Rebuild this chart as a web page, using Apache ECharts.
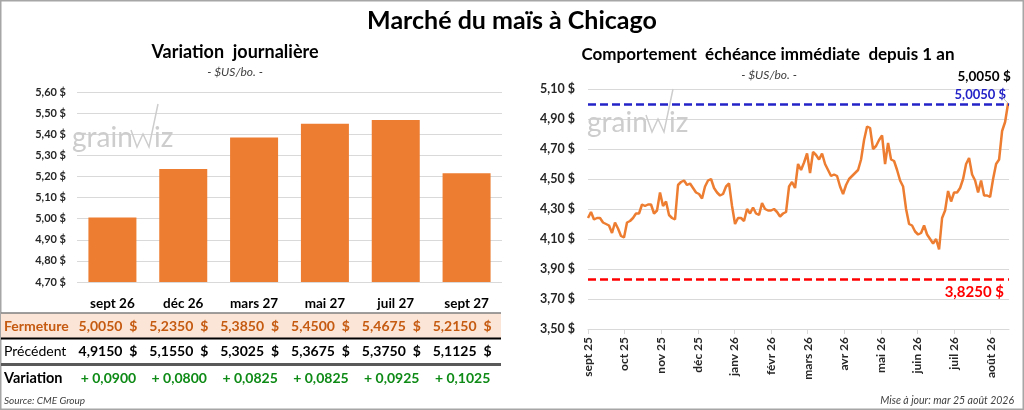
<!DOCTYPE html>
<html>
<head>
<meta charset="utf-8">
<script src="https://cdn.jsdelivr.net/npm/echarts@6/dist/echarts.min.js"></script>
<style>
  html, body { margin: 0; padding: 0; background: #fff; }
  #main { width: 1024px; height: 410px; }
</style>
</head>
<body>
<div id="main"></div>
<script>
// contrats du tableau de gauche
const contracts = ['sept 26', 'déc 26', 'mars 27', 'mai 27', 'juil 27', 'sept 27']
const closes = [5.0050, 5.2350, 5.3850, 5.4500, 5.4675, 5.2150]
const previous = [4.9150, 5.1550, 5.3025, 5.3675, 5.3750, 5.1125]
const changes = [0.0900, 0.0800, 0.0825, 0.0825, 0.0925, 0.1025]

// échéance immédiate, 1 an
const months = ['sept 25', 'oct 25', 'nov 25', 'déc 25', 'janv 26', 'févr 26',
  'mars 26', 'avr 26', 'mai 26', 'juin 26', 'juil 26', 'août 26']
const nearby = [
  4.24, 4.28, 4.23, 4.24, 4.24, 4.21, 4.20, 4.19, 4.14, 4.21, 4.17, 4.12,
  4.11, 4.21, 4.22, 4.24, 4.27, 4.27, 4.33, 4.32, 4.33, 4.33, 4.27, 4.29,
  4.41, 4.32, 4.35, 4.26, 4.24, 4.23, 4.46, 4.48, 4.49, 4.46, 4.47, 4.44,
  4.41, 4.40, 4.37, 4.45, 4.49, 4.50, 4.44, 4.41, 4.39, 4.40, 4.45, 4.47,
  4.32, 4.20, 4.24, 4.24, 4.22, 4.30, 4.27, 4.31, 4.27, 4.26, 4.34, 4.30,
  4.29, 4.29, 4.30, 4.28, 4.25, 4.27, 4.28, 4.45, 4.48, 4.44,
  4.60, 4.56, 4.61, 4.67, 4.54, 4.68, 4.66, 4.63, 4.67, 4.60, 4.56, 4.52,
  4.53, 4.52, 4.45, 4.40, 4.46, 4.50, 4.52, 4.54, 4.56, 4.63, 4.76, 4.85,
  4.84, 4.70, 4.72, 4.76, 4.79, 4.60, 4.74, 4.63, 4.62, 4.56, 4.49, 4.45,
  4.30, 4.20, 4.19, 4.15, 4.13, 4.14, 4.19, 4.13, 4.10, 4.07, 4.10, 4.03,
  4.24, 4.29, 4.42, 4.35, 4.41, 4.41, 4.44, 4.50, 4.60, 4.64, 4.53, 4.49,
  4.41, 4.49, 4.39, 4.39, 4.38, 4.50, 4.60, 4.63, 4.82, 4.88, 5.005
]
const highMark = 5.0050
const lowMark = 3.8250

const PTS_PER_MONTH = 12.2
const FONT = 'Lato'
const fmt = (v, d) => v.toFixed(d).replace('.', ',')

const chart = echarts.init(document.getElementById('main'))
const last = nearby.length - 1
const lastPt = [last / PTS_PER_MONTH, nearby[last]]

const option = {
  animation: false,
  textStyle: { fontFamily: FONT },
  grid: [
    { left: 77, right: 522, top: 92, bottom: 128 },
    { left: 588, right: 15, top: 89, bottom: 81 }
  ],
  xAxis: [
    {
      type: 'category', gridIndex: 0, data: contracts,
      axisLine: { show: false }, axisTick: { show: false },
      axisLabel: { color: '#000', fontWeight: 'bold', fontSize: 13.5, margin: 15 }
    },
    {
      type: 'value', gridIndex: 1, min: 0, max: 11.5, interval: 1,
      splitLine: { show: false },
      axisLine: { show: true, lineStyle: { color: '#d9d9d9' } },
      axisTick: { show: true, length: 5, lineStyle: { color: '#d9d9d9' },
        customValues: months.map((m, i) => i) },
      axisLabel: { rotate: 90, margin: 8, color: '#262626', fontWeight: 'bold', fontSize: 12,
        customValues: months.map((m, i) => i),
        formatter: v => months[Math.round(v)] || '' }
    }
  ],
  yAxis: [
    {
      type: 'value', gridIndex: 0, min: 4.7, max: 5.6, interval: 0.1,
      axisLine: { show: false }, axisTick: { show: false },
      splitLine: { lineStyle: { color: '#d9d9d9' } },
      axisLabel: { color: '#262626', fontWeight: 'bold', fontSize: 11, margin: 11,
        formatter: v => fmt(v, 2) + ' $' }
    },
    {
      type: 'value', gridIndex: 1, min: 3.5, max: 5.1, interval: 0.2,
      axisLine: { show: false }, axisTick: { show: false },
      splitLine: { lineStyle: { color: '#d9d9d9' } },
      axisLabel: { color: '#262626', fontWeight: 'bold', fontSize: 12.5, margin: 13,
        formatter: v => fmt(v, 2) + ' $' }
    }
  ],
  series: [
    {
      type: 'bar', xAxisIndex: 0, yAxisIndex: 0, data: closes,
      barWidth: 48, itemStyle: { color: '#ED7D31' }
    },
    {
      type: 'line', xAxisIndex: 1, yAxisIndex: 1, symbol: 'none',
      lineStyle: { color: '#ED7D31', width: 2.5 },
      data: nearby.map((v, i) => [i / PTS_PER_MONTH, v]),
      markPoint: {
        symbol: 'circle', symbolSize: 1, silent: true,
        itemStyle: { color: 'rgba(0,0,0,0)' },
        data: [{
          coord: lastPt,
          label: { show: true, position: 'top', offset: [-24, -14], formatter: fmt(nearby[last], 4) + ' $',
            color: '#000', fontWeight: 'bold', fontSize: 13.5 }
        }]
      },
      markLine: {
        symbol: 'none', silent: true,
        data: [
          { yAxis: highMark,
            lineStyle: { color: '#2323C8', type: [8, 4], width: 2.5 },
            label: { position: 'insideEndTop', formatter: fmt(highMark, 4) + ' $',
              color: '#2323C8', fontWeight: 'bold', fontSize: 13, distance: 3 } },
          { yAxis: lowMark,
            lineStyle: { color: '#FF0000', type: [8, 4], width: 2.5 },
            label: { position: 'insideEndBottom', formatter: fmt(lowMark, 4) + ' $',
              color: '#FF0000', fontWeight: 'bold', fontSize: 15, distance: 5 } }
        ]
      }
    }
  ]
}
chart.setOption(option)

function txt(text, x, y, font, fill, align) {
  return { type: 'text', z: 10,
    style: { text, x, y, font, fill, textAlign: align || 'left', textVerticalAlign: 'middle' } }
}
function hline(y, x1, x2, color, w) {
  return { type: 'line', z: 5, shape: { x1, y1: y, x2, y2: y }, style: { stroke: color, lineWidth: w } }
}
function watermark(x, y) {
  const c = '#cdcdcd'
  return [
    txt('grain', x, y, '28px ' + FONT, c),
    { type: 'polyline', z: 1,
      shape: { points: [[x + 59, y - 8], [x + 65, y + 9], [x + 71, y - 4], [x + 77, y + 9], [x + 86, y - 34]] },
      style: { stroke: c, lineWidth: 1.5, fill: 'none' } },
    txt('iz', x + 82, y, '28px ' + FONT, c)
  ]
}

const cx = contracts.map(c => chart.convertToPixel({ xAxisIndex: 0 }, c))
const endPx = chart.convertToPixel({ seriesIndex: 1 }, lastPt)
const g = [
  { type: 'rect', z: 0, shape: { x: 0.75, y: 0.75, width: 1022.5, height: 408.5 },
    style: { fill: 'none', stroke: '#a6a6a6', lineWidth: 1.5 } },
  txt('Marché du maïs à Chicago', 512, 21, 'bold 25px ' + FONT, '#000', 'center'),
  txt('Variation  journalière', 235, 52, 'bold 18px ' + FONT, '#000', 'center'),
  txt('- $US/bo. -', 235, 72, 'italic 12px ' + FONT, '#404040', 'center'),
  txt('Comportement  échéance immédiate  depuis 1 an', 768, 55, 'bold 17px ' + FONT, '#000', 'center'),
  txt('- $US/bo. -', 769, 75, 'italic 12px ' + FONT, '#404040', 'center'),
  txt('Source: CME Group', 4, 401, 'italic 10px ' + FONT, '#404040'),
  txt('Mise à jour: mar 25 août 2026', 1014, 401, 'italic 10.5px ' + FONT, '#404040', 'right'),
  { type: 'rect', z: 2, shape: { x: 1, y: 313, width: 500, height: 25 }, style: { fill: '#FBE5D6' } },
  hline(313, 1, 501, '#7f7f7f', 1.5),
  hline(338.5, 1, 501, '#000', 2),
  hline(364.5, 1, 501, '#595959', 3),
  txt('Fermeture', 4, 326, 'bold 14px ' + FONT, '#C55A11'),
  txt('Précédent', 4, 351, '14px ' + FONT, '#000'),
  txt('Variation', 4, 378, 'bold 14.5px ' + FONT, '#000'),
  { type: 'line', z: 6,
    shape: { x1: endPx[0] - 6, y1: endPx[1] - 6, x2: endPx[0], y2: endPx[1] },
    style: { stroke: '#bfbfbf', lineWidth: 1 } }
].concat(watermark(72, 138), watermark(587, 123))

cx.forEach((x, i) => {
  g.push(txt(fmt(closes[i], 4), x + 10, 326, 'bold 14px ' + FONT, '#C55A11', 'right'))
  g.push(txt('$', x + 25, 326, 'bold 14px ' + FONT, '#C55A11', 'right'))
  g.push(txt(fmt(previous[i], 4), x + 10, 351, 'bold 14px ' + FONT, '#000', 'right'))
  g.push(txt('$', x + 25, 351, 'bold 14px ' + FONT, '#000', 'right'))
  g.push(txt('+ ' + fmt(changes[i], 4), x - 4, 378, 'bold 14px ' + FONT, '#0E8A16', 'center'))
})
chart.setOption({ graphic: g })
</script>
</body>
</html>
